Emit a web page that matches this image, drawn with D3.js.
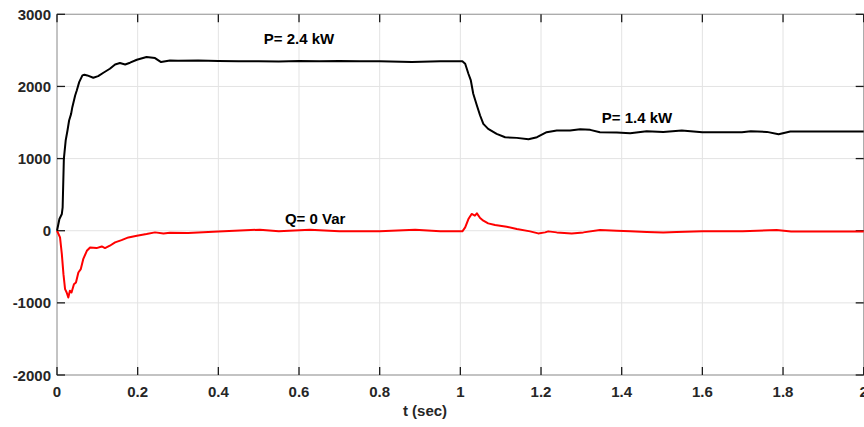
<!DOCTYPE html>
<html>
<head>
<meta charset="utf-8">
<script src="https://cdn.jsdelivr.net/npm/d3@7"></script>
<style>
  body { margin: 0; background: #fff; }
  svg { display: block; font-family: "Liberation Sans", Arial, sans-serif; }
</style>
</head>
<body>
<svg width="864" height="427"></svg>
<script>
// active power P (W)
const pTime = [0, 0.006, 0.012, 0.014, 0.017, 0.0215, 0.026, 0.030, 0.035, 0.038, 0.045, 0.049, 0.055, 0.063, 0.068, 0.075, 0.09, 0.102, 0.115, 0.131, 0.144, 0.156, 0.169, 0.181, 0.198, 0.222, 0.243, 0.258, 0.28, 0.3, 0.35, 0.4, 0.45, 0.5, 0.55, 0.6, 0.65, 0.7, 0.75, 0.8, 0.88, 0.95, 1.005,
  1.012, 1.02, 1.026, 1.032, 1.041, 1.049, 1.057, 1.069, 1.09, 1.111, 1.14, 1.169, 1.19, 1.214, 1.239, 1.272, 1.297, 1.322, 1.346, 1.388, 1.421, 1.462, 1.503, 1.549, 1.6, 1.698, 1.72, 1.76, 1.789, 1.818, 1.9, 2.0];
const pValues = [0, 162, 232, 324, 995, 1250, 1389, 1528, 1620, 1713, 1875, 1944, 2060, 2153, 2162, 2153, 2120, 2143, 2190, 2245, 2305, 2324, 2305, 2329, 2370, 2407, 2393, 2338, 2361, 2355, 2360, 2352, 2348, 2350, 2345, 2352, 2348, 2352, 2348, 2350, 2340, 2350, 2350,
  2315, 2176, 2083, 1898, 1736, 1597, 1481, 1412, 1343, 1296, 1287, 1268, 1296, 1366, 1389, 1389, 1407, 1398, 1366, 1361, 1352, 1379, 1370, 1389, 1366, 1366, 1380, 1370, 1337, 1375, 1375, 1375];

// reactive power Q (Var)
const qTime = [0, 0.0075, 0.012, 0.016, 0.02, 0.024, 0.028, 0.032, 0.036, 0.042, 0.047, 0.053, 0.059, 0.065, 0.074, 0.082, 0.098, 0.111, 0.119, 0.131, 0.144, 0.16, 0.177, 0.198, 0.222, 0.243, 0.264, 0.28, 0.325, 0.4, 0.503, 0.55, 0.627, 0.7, 0.8, 0.888, 0.95, 1.005,
  1.012, 1.02, 1.028, 1.036, 1.041, 1.049, 1.057, 1.069, 1.086, 1.115, 1.14, 1.173, 1.193, 1.21, 1.218, 1.239, 1.276, 1.305, 1.346, 1.388, 1.421, 1.462, 1.503, 1.536, 1.6, 1.7, 1.784, 1.82, 2.0];
const qValues = [0, -93, -324, -602, -810, -856, -926, -833, -856, -741, -718, -579, -532, -394, -278, -232, -241, -218, -241, -208, -162, -130, -93, -69, -46, -23, -37, -28, -32, -10, 14, -8, 14, -8, -8, 14, -8, -8,
  46, 162, 232, 208, 241, 176, 139, 102, 79, 56, 23, -9, -37, -23, -9, -23, -37, -23, 9, 0, -9, -18, -23, -18, -8, -8, 10, -10, -10];

const xTicks = [0, 0.2, 0.4, 0.6, 0.8, 1, 1.2, 1.4, 1.6, 1.8, 2];
const yTicks = [-2000, -1000, 0, 1000, 2000, 3000];

const labels = [
  { text: "P= 2.4 kW", t: 0.6, v: 2590 },
  { text: "P= 1.4 kW", t: 1.438, v: 1490 },
  { text: "Q= 0 Var", t: 0.64, v: 90 }
];

const svg = d3.select("svg");
const mLeft = 57, mRight = 863.7, mTop = 14.3, mBottom = 375;

const x = d3.scaleLinear().domain([0, 2]).range([mLeft, mRight]);
const y = d3.scaleLinear().domain([-2000, 3000]).range([mBottom, mTop]);

// grille
svg.append("g").selectAll("line").data(xTicks).enter().append("line")
  .attr("x1", d => x(d)).attr("x2", d => x(d))
  .attr("y1", mTop).attr("y2", mBottom)
  .attr("stroke", "#e3e3e3").attr("stroke-width", 1);
svg.append("g").selectAll("line").data(yTicks).enter().append("line")
  .attr("x1", mLeft).attr("x2", mRight)
  .attr("y1", d => y(d)).attr("y2", d => y(d))
  .attr("stroke", "#e3e3e3").attr("stroke-width", 1);

// cadre
svg.append("rect")
  .attr("x", mLeft).attr("y", mTop)
  .attr("width", mRight - mLeft).attr("height", mBottom - mTop)
  .attr("fill", "none").attr("stroke", "#a6a6a6").attr("stroke-width", 1.2);

// graduations vers l'intérieur
const tk = 8;
const ticks = svg.append("g").attr("stroke", "#1a1a1a").attr("stroke-width", 1.3);
xTicks.forEach(d => {
  ticks.append("line").attr("x1", x(d)).attr("x2", x(d)).attr("y1", mBottom).attr("y2", mBottom - tk);
  ticks.append("line").attr("x1", x(d)).attr("x2", x(d)).attr("y1", mTop).attr("y2", mTop + tk);
});
yTicks.forEach(d => {
  ticks.append("line").attr("x1", mLeft).attr("x2", mLeft + tk).attr("y1", y(d)).attr("y2", y(d));
  ticks.append("line").attr("x1", mRight).attr("x2", mRight - tk).attr("y1", y(d)).attr("y2", y(d));
});

// libellés des axes
svg.append("g").selectAll("text").data(xTicks).enter().append("text")
  .attr("x", d => x(d)).attr("y", 397)
  .attr("text-anchor", "middle")
  .attr("font-size", "15px").attr("font-weight", "bold").attr("fill", "#262626")
  .text(d => d3.format("")(d));
svg.append("g").selectAll("text").data(yTicks).enter().append("text")
  .attr("x", 51).attr("y", d => y(d) + 5.5)
  .attr("text-anchor", "end")
  .attr("font-size", "15px").attr("font-weight", "bold").attr("fill", "#262626")
  .text(d => d);

svg.append("text")
  .attr("x", 425).attr("y", 416)
  .attr("text-anchor", "middle")
  .attr("font-size", "15px").attr("font-weight", "bold").attr("fill", "#262626")
  .text("t (sec)");

// courbes
const line = d3.line().x(d => x(d[0])).y(d => y(d[1]));
svg.append("path")
  .datum(qTime.map((t, i) => [t, qValues[i]]))
  .attr("d", line).attr("fill", "none")
  .attr("stroke", "#ff0000").attr("stroke-width", 2).attr("stroke-linejoin", "round");
svg.append("path")
  .datum(pTime.map((t, i) => [t, pValues[i]]))
  .attr("d", line).attr("fill", "none")
  .attr("stroke", "#000").attr("stroke-width", 2).attr("stroke-linejoin", "round");

// annotations
svg.append("g").selectAll("text").data(labels).enter().append("text")
  .attr("x", d => x(d.t)).attr("y", d => y(d.v))
  .attr("text-anchor", "middle")
  .attr("font-size", "15px").attr("font-weight", "bold").attr("fill", "#000")
  .text(d => d.text);
</script>
</body>
</html>
